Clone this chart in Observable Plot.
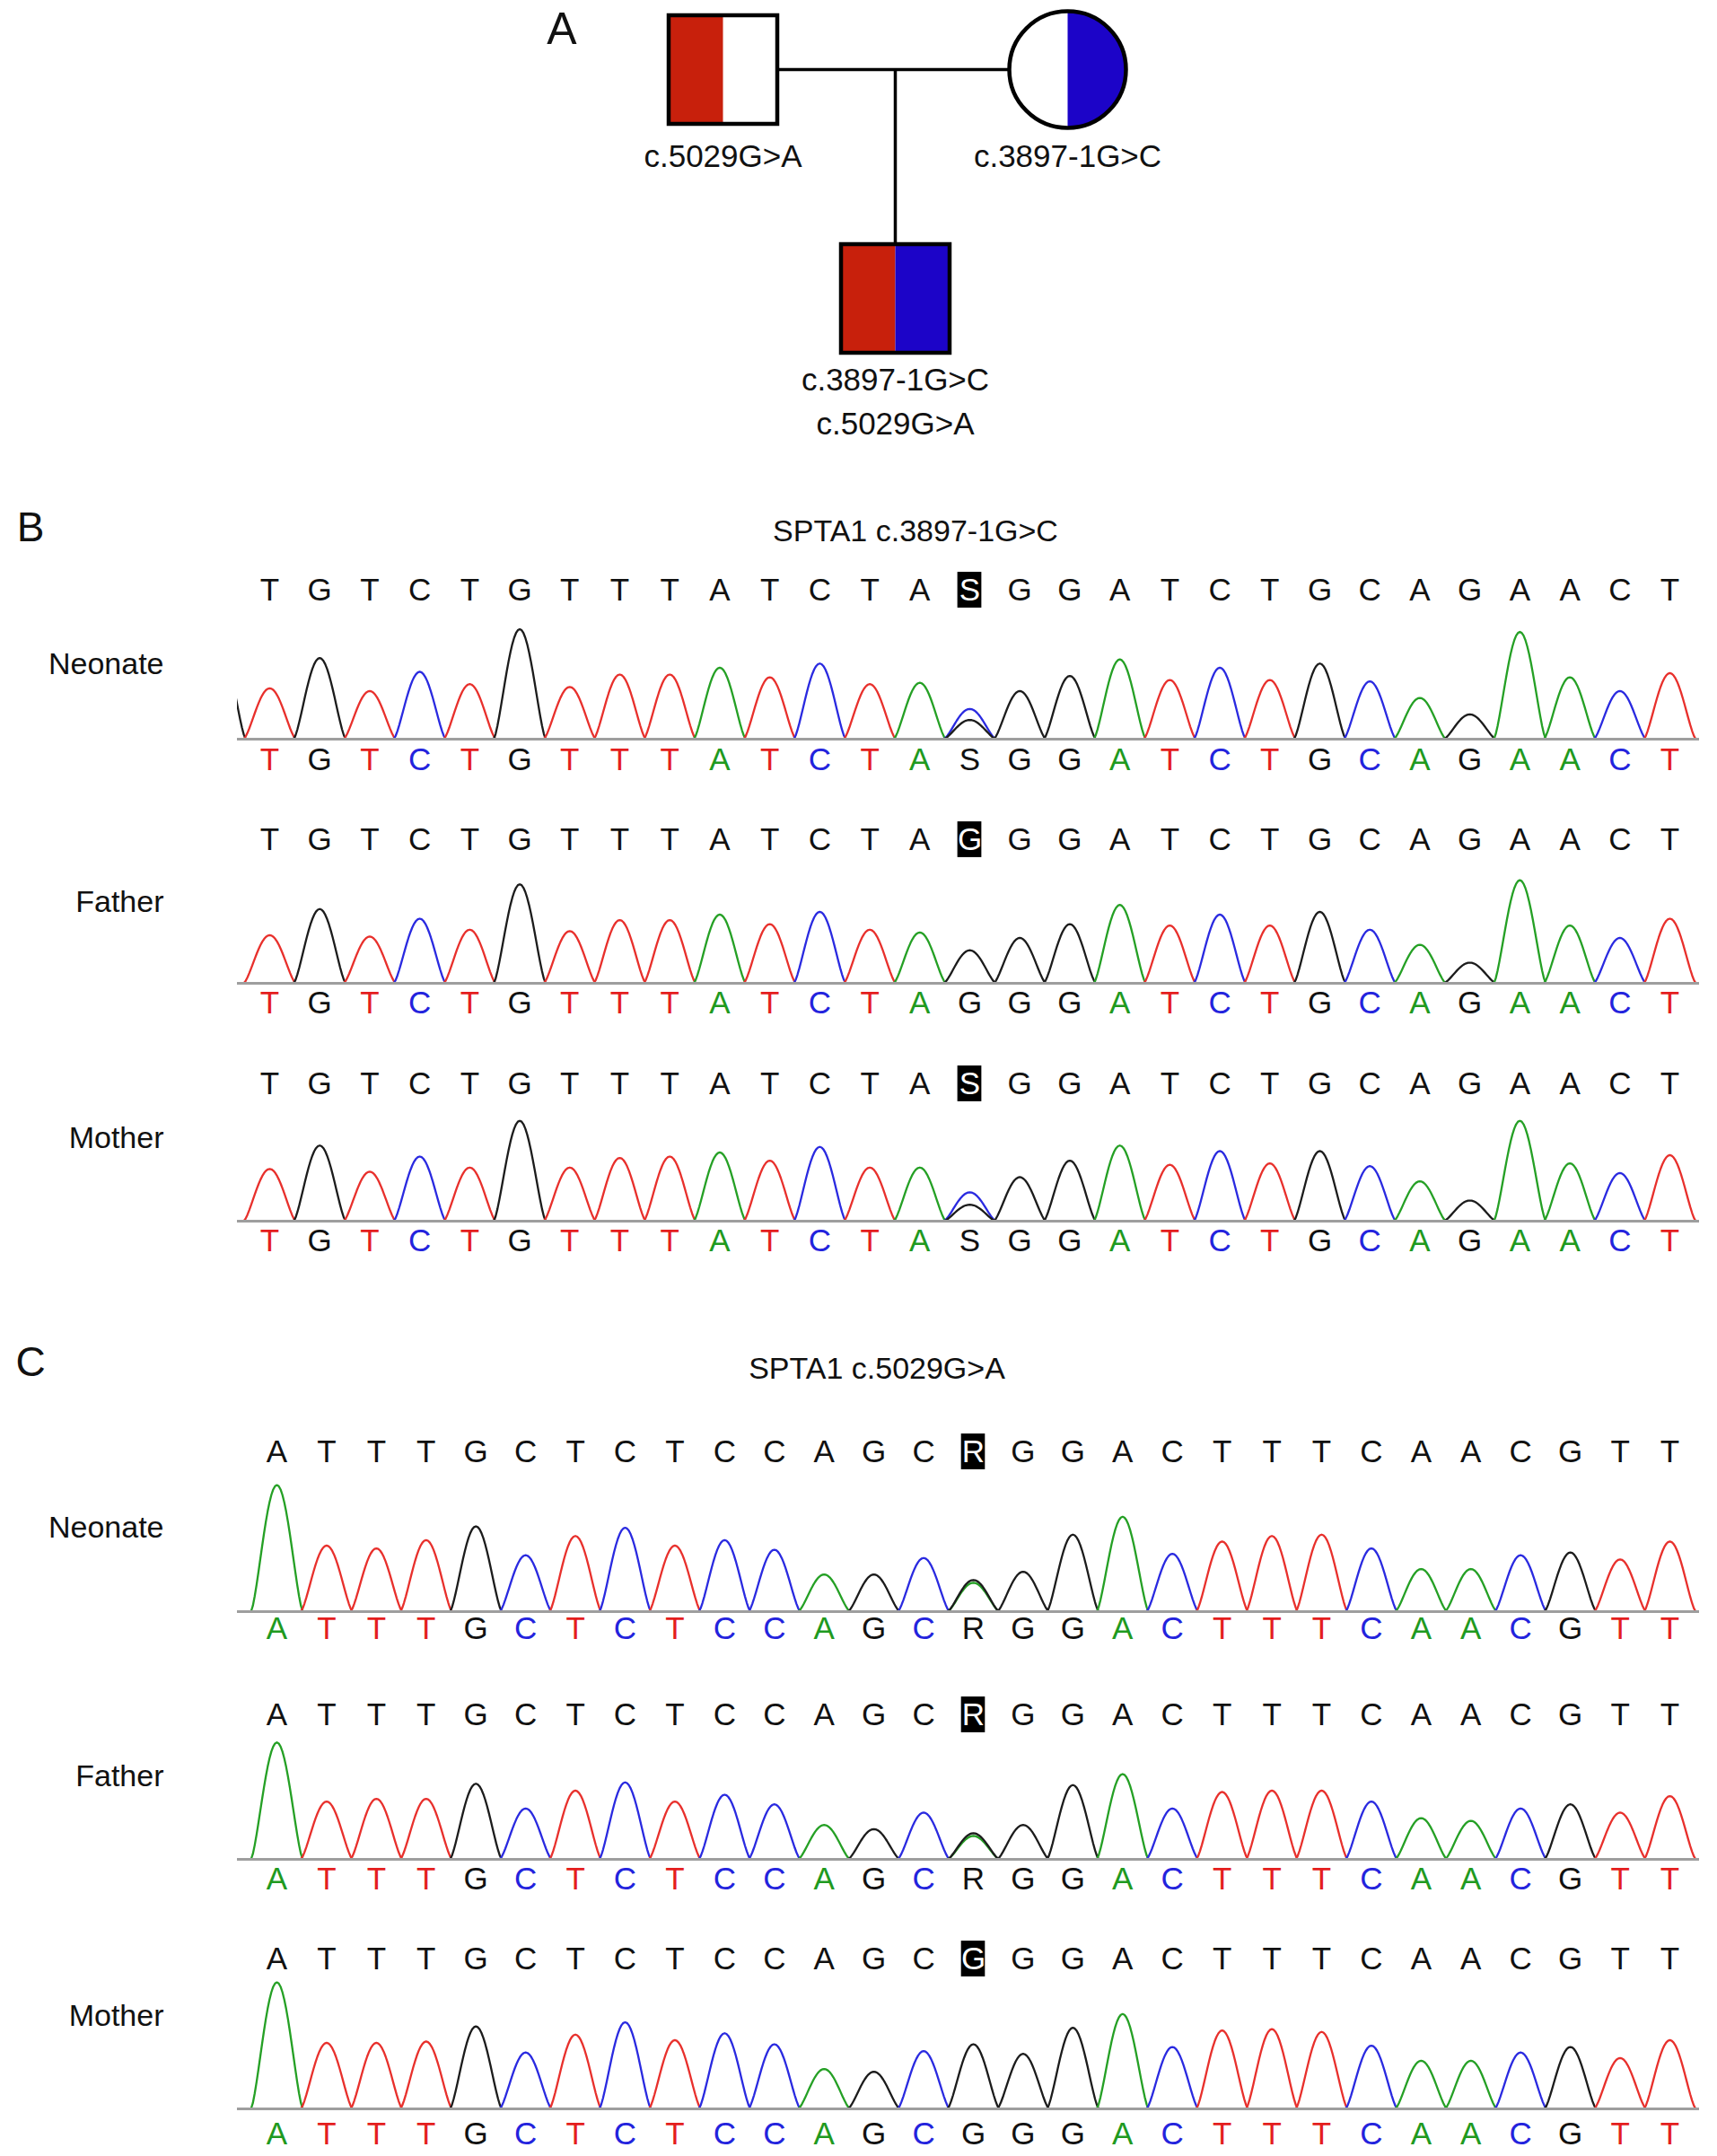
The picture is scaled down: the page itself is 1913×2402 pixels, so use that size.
<!DOCTYPE html>
<html><head><meta charset="utf-8">
<script src="https://cdn.jsdelivr.net/npm/d3@7"></script>
<script src="https://cdn.jsdelivr.net/npm/@observablehq/plot@0.6"></script>
<style>
html,body{margin:0;padding:0;background:#fff;overflow:hidden}
#page{position:relative;width:1913px;height:2402px;font-family:"Liberation Sans",Arial,Helvetica,sans-serif;color:#111}
.lbl{position:absolute;transform:translate(-50%,-50%);white-space:nowrap;line-height:1}
.layer{position:absolute;left:0}
</style></head><body><div id="page"></div>
<script>
// ---------------- DATA ----------------
// Panel A: pedigree
const pedigreeMembers = ["Father", "Mother", "Neonate"];
const pedigreeSex = ["male", "female", "male"];
const pedigreeGeneration = [1, 1, 2];
const pedigreeOrder = [0, 2, 1];
const pedigreeVariants = [["c.5029G>A"], ["c.3897-1G>C"], ["c.3897-1G>C", "c.5029G>A"]];
const variantLeftHalf = "c.5029G>A";
const variantRightHalf = "c.3897-1G>C";

// Panels B and C: Sanger chromatograms
const panelLetters = ["A", "B", "C"];
const titleB = "SPTA1 c.3897-1G>C";
const titleC = "SPTA1 c.5029G>A";
const samples = ["Neonate", "Father", "Mother"];

const seqB = ["T","G","T","C","T","G","T","T","T","A","T","C","T","A","G","G","G","A","T","C","T","G","C","A","G","A","A","C","T"];
const siteB = 14;
const siteCallsB = ["S", "G", "S"];
const heightsBNeonate = [37,59,35,49,40,80,38,47,47,52,45,55,40,41,[22,14],35,46,58,43,52,43,55,42,30,18,78,45,35,48];
const heightsBFather  = [35,54,34,47,39,72,38,46,46,50,43,52,39,37,24,33,43,57,42,50,42,52,39,28,15,75,42,33,47];
const heightsBMother  = [38,55,36,47,39,73,39,46,47,50,44,54,39,39,[21,12],32,44,55,41,51,42,51,40,29,15,73,42,35,48];
const leadBNeonate = ["G", 68];

const seqC = ["A","T","T","T","G","C","T","C","T","C","C","A","G","C","G","G","G","A","C","T","T","T","C","A","A","C","G","T","T"];
const siteC = 14;
const siteCallsC = ["R", "R", "G"];
const heightsCNeonate = [92,48,46,52,62,41,55,61,48,52,45,27,27,39,[21,23],29,56,69,42,51,55,56,46,31,31,41,43,38,51];
const heightsCFather  = [85,42,44,44,55,37,50,56,42,47,40,25,22,34,[17,19],25,54,62,37,49,50,50,42,30,28,37,40,34,46];
const heightsCMother  = [92,48,48,49,60,41,54,63,50,55,47,29,27,42,47,40,59,69,45,57,58,56,46,35,35,41,45,37,50];

const iupac = {S: ["C", "G"], R: ["A", "G"]};

// ---------------- STYLE / LAYOUT ----------------
const FONT = '"Liberation Sans", Arial, Helvetica, sans-serif';
const traceColors = {A: "#25a025", C: "#2a2ae0", G: "#1c1c1c", T: "#e8302c"};
const letterColors = {A: "#1f9a1f", C: "#2323dd", G: "#111", T: "#e41e1e"};
const RED = "#c8200c", BLUE = "#1c04c8";
const U = 1.532;      // px per signal unit
const LOCAL = 205;    // baseline position inside each trace svg

const page = document.getElementById("page");
function addLabel(text, cx, cy, size) {
  const d = document.createElement("div");
  d.className = "lbl"; d.textContent = text;
  d.style.left = cx + "px"; d.style.top = cy + "px"; d.style.fontSize = size + "px";
  page.appendChild(d);
}
function addLayer(node, top) {
  node.classList.add("layer"); node.style.top = top + "px";
  page.appendChild(node);
}

// ---------------- PANEL A: pedigree ----------------
const members = pedigreeMembers.map((name, i) => ({
  name, sex: pedigreeSex[i], gen: pedigreeGeneration[i], order: pedigreeOrder[i], variants: pedigreeVariants[i]
}));
const father = members.find(d => d.sex === "male" && d.gen === 1);
const mother = members.find(d => d.sex === "female" && d.gen === 1);
const parents = members.filter(d => d.gen === 1);
const children = members.filter(d => d.gen === 2);
const couple = [{x1: father.order, x2: mother.order, y: father.gen}];
const descent = children.map(c => ({x1: (father.order + mother.order) / 2, y1: father.gen, x2: c.order, y2: c.gen}));

const sym = (fn) => ({draw(ctx, size) { fn(ctx, Math.sqrt(size / Math.PI)); }});
const sqFull = sym((c, s) => { c.moveTo(-s, -s); c.lineTo(s, -s); c.lineTo(s, s); c.lineTo(-s, s); c.closePath(); });
const sqLeft = sym((c, s) => { c.moveTo(-s, -s); c.lineTo(0, -s); c.lineTo(0, s); c.lineTo(-s, s); c.closePath(); });
const sqRight = sym((c, s) => { c.moveTo(0, -s); c.lineTo(s, -s); c.lineTo(s, s); c.lineTo(0, s); c.closePath(); });
const ciFull = sym((c, r) => { c.moveTo(r, 0); c.arc(0, 0, r, 0, 2 * Math.PI); c.closePath(); });
const ciLeft = sym((c, r) => { c.moveTo(0, -r); c.arc(0, 0, r, -Math.PI / 2, Math.PI / 2, true); c.closePath(); });
const ciRight = sym((c, r) => { c.moveTo(0, -r); c.arc(0, 0, r, -Math.PI / 2, Math.PI / 2, false); c.closePath(); });

const males = members.filter(d => d.sex === "male");
const females = members.filter(d => d.sex === "female");
const SQ = 60.5, CI = 65;
const pedigree = Plot.plot({
  width: 1913, height: 500, margin: 0,
  x: {domain: [0, 2], range: [805, 1189], axis: null},
  y: {domain: [1, 2], range: [77, 332], axis: null},
  style: {fontFamily: FONT, background: "transparent", overflow: "visible"},
  marks: [
    Plot.link(couple, {x1: "x1", x2: "x2", y1: "y", y2: "y", stroke: "#000", strokeWidth: 3.5}),
    Plot.link(descent, {x1: "x1", y1: "y1", x2: "x2", y2: "y2", stroke: "#000", strokeWidth: 3.5}),
    Plot.dot(males, {x: "order", y: "gen", r: SQ, symbol: sqFull, fill: "#fff", stroke: "none"}),
    Plot.dot(males.filter(d => d.variants.includes(variantLeftHalf)), {x: "order", y: "gen", r: SQ, symbol: sqLeft, fill: RED, stroke: "none"}),
    Plot.dot(males.filter(d => d.variants.includes(variantRightHalf)), {x: "order", y: "gen", r: SQ, symbol: sqRight, fill: BLUE, stroke: "none"}),
    Plot.dot(males, {x: "order", y: "gen", r: SQ, symbol: sqFull, fill: "none", stroke: "#000", strokeWidth: 4.5}),
    Plot.dot(females, {x: "order", y: "gen", r: CI, symbol: ciFull, fill: "#fff", stroke: "none"}),
    Plot.dot(females.filter(d => d.variants.includes(variantLeftHalf)), {x: "order", y: "gen", r: CI, symbol: ciLeft, fill: RED, stroke: "none"}),
    Plot.dot(females.filter(d => d.variants.includes(variantRightHalf)), {x: "order", y: "gen", r: CI, symbol: ciRight, fill: BLUE, stroke: "none"}),
    Plot.dot(females, {x: "order", y: "gen", r: CI, symbol: ciFull, fill: "none", stroke: "#000", strokeWidth: 4.5}),
    Plot.text(parents, {x: "order", y: "gen", text: d => d.variants.join("\n"), lineAnchor: "top", dy: 73, lineHeight: 1.42, fontSize: 35, fill: "#111"}),
    Plot.text(children, {x: "order", y: "gen", text: d => d.variants.join("\n"), lineAnchor: "top", dy: 67, lineHeight: 1.42, fontSize: 35, fill: "#111"})
  ]
});
addLayer(pedigree, 0);

// ---------------- PANELS B / C: chromatograms ----------------
function peakTable(calls, heights, lead) {
  const rows = [];
  const W = 0.52, N = 28;
  const add = (id, pos, base, h) => {
    for (let k = 0; k <= N; k++) {
      const dx = -W + 2 * W * k / N;
      const c = Math.max(0, Math.cos(Math.PI * dx / (2 * W)));
      rows.push({id, x: pos + dx, y: h * Math.pow(c, 1.4), base});
    }
  };
  if (lead) add("lead", -1, lead[0], lead[1]);
  calls.forEach((call, i) => {
    const h = heights[i];
    if (Array.isArray(h)) iupac[call].forEach((b, j) => add(i + "-" + b, i, b, h[j]));
    else add(String(i), i, call, h);
  });
  return rows;
}

function traceChart(cfg) {
  const calls = cfg.seq.map((b, i) => i === cfg.site ? cfg.siteCall : b);
  const pts = peakTable(calls, cfg.heights, cfg.lead);
  const letters = calls.map((c, i) => ({i, c}));
  const topOff = cfg.baseline - cfg.top;
  const topU = topOff / U;
  return Plot.plot({
    width: 1913, height: 250, marginLeft: 264, marginRight: 20, marginTop: 0, marginBottom: 0,
    x: {domain: [0, 28], range: cfg.xRange, axis: null},
    y: {domain: [0, 100], range: [LOCAL, LOCAL - 100 * U], axis: null},
    style: {fontFamily: FONT, background: "transparent", overflow: "visible"},
    marks: [
      Plot.line(pts, {x: "x", y: "y", z: "id", stroke: d => traceColors[d.base], strokeWidth: 2.3, clip: true}),
      Plot.ruleY([0], {stroke: "#9e9e9e", strokeWidth: 3}),
      Plot.text(letters, {x: "i", y: 0, dy: cfg.bottom - cfg.baseline, text: "c", fill: d => letterColors[d.c] ?? "#111", fontSize: 35}),
      Plot.rect([cfg.site], {x1: i => i - 0.24, x2: i => i + 0.24, y1: topU - 13, y2: topU + 13, fill: "#000"}),
      Plot.text(letters, {x: "i", y: 0, dy: -topOff, text: "c", fill: d => d.i === cfg.site ? "#fff" : "#111", fontSize: 35}),
      Plot.text([cfg.sample], {frameAnchor: "left", y: 0, dx: -82, dy: cfg.label - cfg.baseline, text: d => d, textAnchor: "end", fontSize: 34, fill: "#111"})
    ]
  });
}

const traceLayout = [
  {seq: seqB, site: siteB, siteCall: siteCallsB[0], heights: heightsBNeonate, lead: leadBNeonate, sample: samples[0], xRange: [300, 1860], baseline: 823, top: 657, bottom: 846, label: 740},
  {seq: seqB, site: siteB, siteCall: siteCallsB[1], heights: heightsBFather, sample: samples[1], xRange: [300, 1860], baseline: 1095, top: 935, bottom: 1117, label: 1005},
  {seq: seqB, site: siteB, siteCall: siteCallsB[2], heights: heightsBMother, sample: samples[2], xRange: [300, 1860], baseline: 1360, top: 1207, bottom: 1382, label: 1268},
  {seq: seqC, site: siteC, siteCall: siteCallsC[0], heights: heightsCNeonate, sample: samples[0], xRange: [308, 1860], baseline: 1795, top: 1617, bottom: 1814, label: 1702},
  {seq: seqC, site: siteC, siteCall: siteCallsC[1], heights: heightsCFather, sample: samples[1], xRange: [308, 1860], baseline: 2071, top: 1910, bottom: 2093, label: 1979},
  {seq: seqC, site: siteC, siteCall: siteCallsC[2], heights: heightsCMother, sample: samples[2], xRange: [308, 1860], baseline: 2349, top: 2182, bottom: 2377, label: 2246}
];
traceLayout.forEach(cfg => addLayer(traceChart(cfg), cfg.baseline - LOCAL));

// ---------------- HTML text ----------------
addLabel(panelLetters[0], 626, 32, 50);
addLabel(panelLetters[1], 34, 587, 46);
addLabel(panelLetters[2], 34, 1517, 46);
addLabel(titleB, 1020, 591, 34);
addLabel(titleC, 977, 1524, 34);
</script>
</body></html>
